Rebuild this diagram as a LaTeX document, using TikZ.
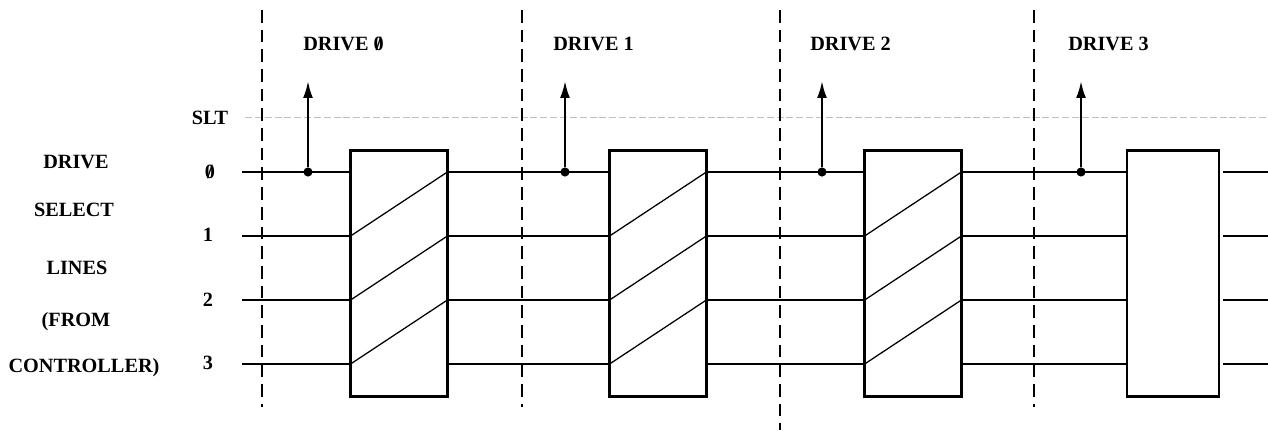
\documentclass[tikz,border=0pt]{standalone}
\usepackage{fontspec}
\setmainfont{Liberation Serif}
\usetikzlibrary{arrows.meta}
\newcommand{\slz}{\ooalign{0\cr\hidewidth/\hidewidth}}
\tikzset{
  dot/.style = {circle, fill, minimum size=#1,
                inner sep=0pt, outer sep=0pt},
  dot/.default = 6.5pt,
  unit/.style = {draw, line width=1.6pt, minimum width=#1,
                 minimum height=6.15cm, inner sep=0pt, outer sep=0pt},
  unit/.default = 2.42cm,
  sel/.style = {line width=0.9pt},
  fence/.style = {line width=2.1pt, dash pattern=on 9pt off 5pt},
  lbl/.style = {font=\Large\bfseries, inner sep=0pt},
  rise/.style = {line width=1.6pt, -{Latex[length=12pt,width=7pt]}}
}

\begin{document}
\begin{tikzpicture}[x=0.025cm, y=-0.025cm]
	\useasboundingbox (0,0) rectangle (1268,431);
	
	% Left labels
	\node[lbl] (ldrive) at (76,162) {DRIVE};
	\node[lbl] (lselect) at (74,210) {SELECT};
	\node[lbl] (llines) at (77,268) {LINES};
	\node[lbl] (lfrom) at (76,322) {(FROM};
	\node[lbl] (lctrl) at (84,368) {CONTROLLER)};
	
	% Line names
	\node[lbl] (slt) at (210,118) {SLT};
	\node[lbl] (n0) at (210,172) {\slz};
	\node[lbl] (n1) at (208,235) {1};
	\node[lbl] (n2) at (208,300) {2};
	\node[lbl] (n3) at (208,363) {3};
	
	% SLT level (faint)
	\draw[black!25, line width=0.5pt, dash pattern=on 5pt off 2pt] (245,117) -- (1268,117);
	
	% Drive units
	\node[unit] (b1) at (399,273.5) {};
	\node[unit] (b2) at (658,273.5) {};
	\node[unit] (b3) at (913,273.5) {};
	\node[unit=2.3cm] (b4) at (1173,273.5) {};
	
	% Select lines
	\coordinate (r0) at (242,172);
	\coordinate (r1) at (242,236);
	\coordinate (r2) at (242,300);
	\coordinate (r3) at (242,364);
	\coordinate (e) at (1268,0);
	\foreach \r in {0,...,3} {
		\draw[sel] (r\r) -- (r\r -| b1.west);
		\draw[sel] (r\r -| b1.east) -- (r\r -| b2.west);
		\draw[sel] (r\r -| b2.east) -- (r\r -| b3.west);
		\draw[sel] (r\r -| b3.east) -- (r\r -| b4.west);
		\draw[sel] ([xshift=3pt]r\r -| b4.east) -- (r\r -| e);
	}
	
	% Shifted wiring (drives 0-2)
	\foreach \b in {b1,b2,b3} {
		\draw[sel] (r1 -| \b.west) -- (r0 -| \b.east);
		\draw[sel] (r2 -| \b.west) -- (r1 -| \b.east);
		\draw[sel] (r3 -| \b.west) -- (r2 -| \b.east);
	}
	
	% Boundaries
	\draw[fence] (262,10) -- (262,407);
	\draw[fence] (522,10) -- (522,407);
	\draw[fence] (780,10) -- (780,430);
	\draw[fence] (1034,10) -- (1034,407);
	
	% Drive 0
	\node[dot] (d0) at (308,172) {};
	\coordinate (t0) at (308,81);
	\draw[rise] (d0) -- (t0);
	\node[lbl, anchor=west] (h0) at (303,44) {DRIVE \slz};
	
	% Drive 1
	\node[dot] (d1) at (565,172) {};
	\coordinate (t1) at (565,81);
	\draw[rise] (d1) -- (t1);
	\node[lbl, anchor=west] (h1) at (553,44) {DRIVE 1};
	
	% Drive 2
	\node[dot] (d2) at (822,172) {};
	\coordinate (t2) at (822,81);
	\draw[rise] (d2) -- (t2);
	\node[lbl, anchor=west] (h2) at (810,44) {DRIVE 2};
	
	% Drive 3
	\node[dot] (d3) at (1081,172) {};
	\coordinate (t3) at (1081,81);
	\draw[rise] (d3) -- (t3);
	\node[lbl, anchor=west] (h3) at (1068,44) {DRIVE 3};
	
\end{tikzpicture}
\end{document}
